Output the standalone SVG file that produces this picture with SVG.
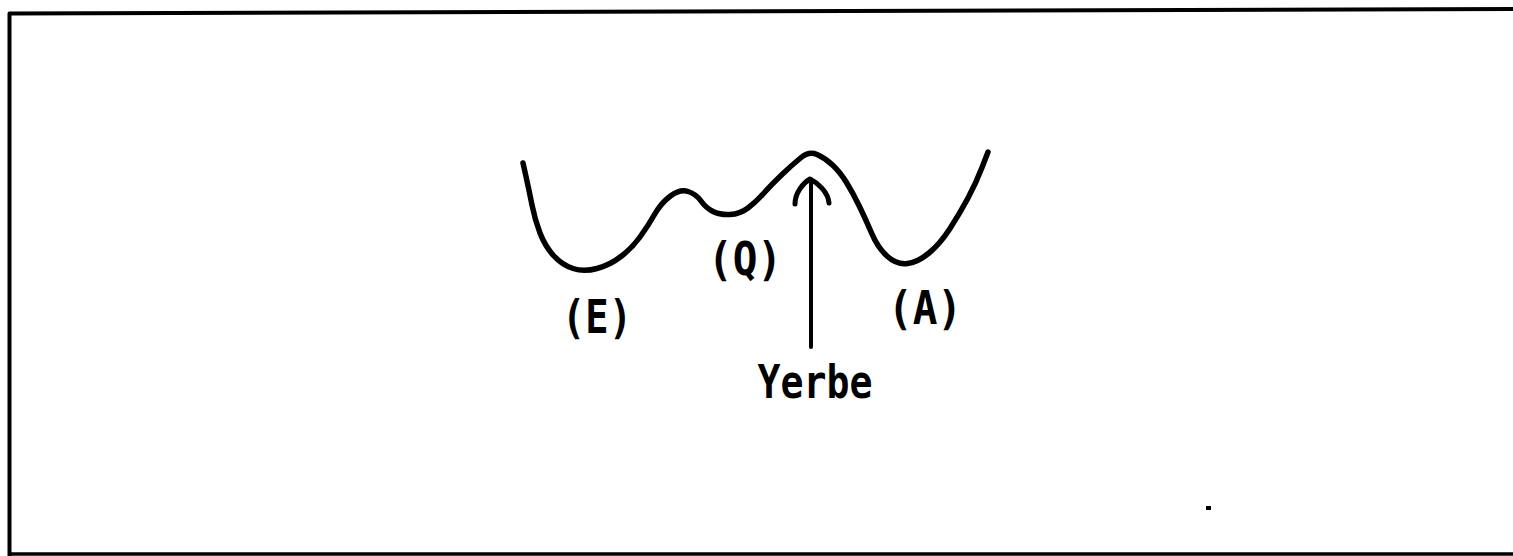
<svg xmlns="http://www.w3.org/2000/svg" width="1513" height="556" viewBox="0 0 1513 556">
<style>
.ln{fill:none;stroke:#000;stroke-linecap:round;stroke-linejoin:round}
.lb{font-family:"DejaVu Sans Mono","Liberation Mono",monospace;font-weight:bold;font-size:47px;fill:#000;text-anchor:middle}
</style>
<rect width="1513" height="556" fill="#fff"/>
<g id="frame">
<path class="ln" style="stroke-linecap:butt" stroke-width="4" d="M9.5,556 L9.5,13.5 L1513,9"/>
<path class="ln" style="stroke-linecap:butt" stroke-width="3.5" d="M8,554 L1513,554"/>
<rect x="1206" y="506" width="5" height="4" fill="#000"/>
</g>
<g id="curve">
<path class="ln" stroke-width="5.5" d="M523,163 L526,176.5 Q529,190 532,205 Q535,220 540,233 Q545,246 553.5,255.5 Q562,265 573,268.5 Q584,272 597,268.5 Q610,265 621,256.5 Q632,248 640,237 Q648,226 654.5,214.5 Q661,203 670.5,196 Q680,189 688,191.5 Q696,194 701,201 Q706,208 713,211.5 Q720,215 730,214.5 Q740,214 748,208 Q756,202 764,193 Q772,184 782,174.5 Q792,165 800.5,158 Q809,151 817,154.5 Q825,158 832.5,165 Q840,172 846.5,182.5 Q853,193 859.5,206.5 Q866,220 872,234 Q878,248 887.5,256.5 Q897,265 907.5,263.5 Q918,262 929,253 Q940,244 950,228.5 Q960,213 968,198 Q976,183 982,167.5 L988,152"/>
</g>
<g id="connectors">
<path class="ln" stroke-width="4" d="M811,181 L811,347"/>
<path class="ln" stroke-width="5" d="M795,204 C795,193 803,183 810,179 C818,183 828,192 829,203"/>
</g>
<g id="node-E"><text class="lb" x="597" y="333" textLength="70" lengthAdjust="spacingAndGlyphs">(E)</text></g>
<g id="node-Q"><text class="lb" x="745" y="275" textLength="74" lengthAdjust="spacingAndGlyphs">(Q)</text></g>
<g id="node-A"><text class="lb" x="925" y="324" textLength="74" lengthAdjust="spacingAndGlyphs">(A)</text></g>
<g id="node-Verbe"><text class="lb" x="815" y="398" textLength="115" lengthAdjust="spacingAndGlyphs">Yerbe</text></g>
</svg>
